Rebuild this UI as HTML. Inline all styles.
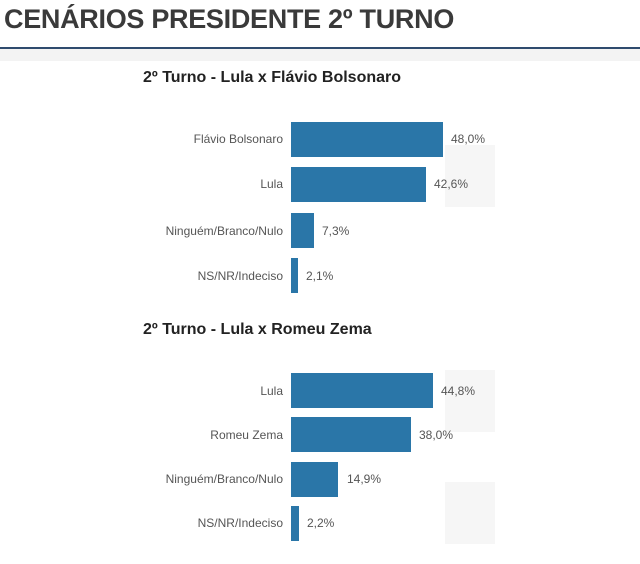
<!DOCTYPE html>
<html><head><meta charset="utf-8"><style>
body{margin:0;width:640px;height:564px;background:#fff;font-family:"Liberation Sans",sans-serif;position:relative;overflow:hidden}
.t{position:absolute;left:4px;top:4px;font-size:27px;font-weight:bold;color:#3a3a3a;letter-spacing:-0.3px;white-space:nowrap}
.line{position:absolute;left:0;top:47px;width:640px;height:2px;background:#2f4b6e}
.band{position:absolute;left:0;top:49px;width:640px;height:12px;background:#f3f3f3}
.h{position:absolute;left:143px;font-size:16px;font-weight:bold;color:#222;white-space:nowrap}
.bar{position:absolute;left:291px;height:35px;background:#2a76a8}
.l{position:absolute;right:357px;font-size:12px;color:#555;white-space:nowrap;text-align:right}
.v{position:absolute;font-size:12px;color:#555}
.wm{position:absolute;background:#f6f6f6}
</style></head><body>
<div class="band"></div>
<div class="wm" style="left:445px;top:145px;width:50px;height:62px"></div>
<div class="wm" style="left:445px;top:370px;width:50px;height:62px"></div>
<div class="wm" style="left:445px;top:482px;width:50px;height:62px"></div>
<div class="t">CENÁRIOS PRESIDENTE 2º TURNO</div>
<div class="line"></div>
<div class="h" style="top:69px">2º Turno - Lula x Flávio Bolsonaro</div>
<div class="bar" style="top:122px;width:152px"></div><div class="l" style="top:132px">Flávio Bolsonaro</div><div class="v" style="left:451px;top:132px">48,0%</div>
<div class="bar" style="top:167px;width:135px"></div><div class="l" style="top:177px">Lula</div><div class="v" style="left:434px;top:177px">42,6%</div>
<div class="bar" style="top:213px;width:23px"></div><div class="l" style="top:224px">Ninguém/Branco/Nulo</div><div class="v" style="left:322px;top:224px">7,3%</div>
<div class="bar" style="top:258px;width:7px"></div><div class="l" style="top:269px">NS/NR/Indeciso</div><div class="v" style="left:306px;top:269px">2,1%</div>
<div class="h" style="top:321px">2º Turno - Lula x Romeu Zema</div>
<div class="bar" style="top:373px;width:142px"></div><div class="l" style="top:384px">Lula</div><div class="v" style="left:441px;top:384px">44,8%</div>
<div class="bar" style="top:417px;width:120px"></div><div class="l" style="top:428px">Romeu Zema</div><div class="v" style="left:419px;top:428px">38,0%</div>
<div class="bar" style="top:462px;width:47px"></div><div class="l" style="top:472px">Ninguém/Branco/Nulo</div><div class="v" style="left:347px;top:472px">14,9%</div>
<div class="bar" style="top:506px;width:8px"></div><div class="l" style="top:516px">NS/NR/Indeciso</div><div class="v" style="left:307px;top:516px">2,2%</div>
</body></html>
